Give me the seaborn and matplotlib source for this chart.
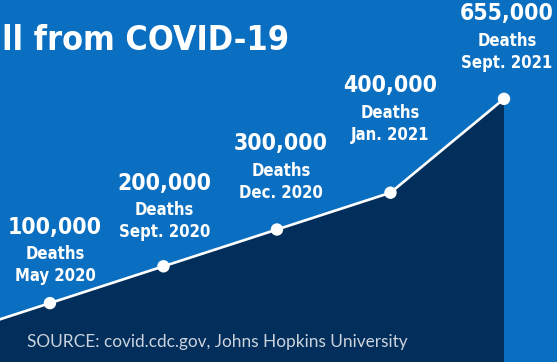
import matplotlib
matplotlib.use("Agg")
import matplotlib.pyplot as plt
import seaborn as sns
import pandas as pd

# Data
dates = ["Feb. 2020", "May 2020", "Sept. 2020", "Dec. 2020", "Jan. 2021", "Sept. 2021"]
deaths = [0, 100000, 200000, 300000, 400000, 655000]
number_labels = ["", "100,000", "200,000", "300,000", "400,000", "655,000"]
title_text = "ll from COVID-19"
source_text = "SOURCE: covid.cdc.gov, Johns Hopkins University"

BLUE = "#0A6EC1"
NAVY = "#022E5B"
WHITE = "#FFFFFF"
FONT = ["DejaVu Sans"]

df = pd.DataFrame({"pos": range(-1, len(deaths) - 1), "deaths": deaths, "date": dates})

sns.set_theme(style="white")
plt.rcParams["font.family"] = FONT

fig = plt.figure(figsize=(5.57, 3.62), dpi=100)
fig.patch.set_facecolor(BLUE)
ax = fig.add_axes([0, 0, 1, 1])
ax.set_facecolor(BLUE)

ymin, ymax = -60000, 923600
ax.set_xlim(-0.44, 4.467)
ax.set_ylim(ymin, ymax)

ax.fill_between(df["pos"], df["deaths"], ymin, color=NAVY, lw=0, zorder=1)
sns.lineplot(data=df, x="pos", y="deaths", ax=ax, color=WHITE, lw=1.9, zorder=2)
pts = df[df["pos"] >= 0]
sns.scatterplot(data=pts, x="pos", y="deaths", ax=ax, color=WHITE, s=80,
                edgecolor="none", zorder=3)

# Label placement (pixel offsets from each point: x shift, date-line rise)
label_dx = [0, 5, 1, 4, 0, 3]
label_dy = [0, 27, 34, 37, 58, 36]
txt_kw = dict(textcoords="offset pixels", ha="center", va="center", color=WHITE,
              fontweight="bold", family=FONT, fontstretch="condensed", zorder=4)
for i, row in df.iterrows():
    if not number_labels[i]:
        continue
    xy = (row["pos"], row["deaths"])
    dx, dy = label_dx[i], label_dy[i]
    ax.annotate(row["date"], xy, xytext=(dx, dy), fontsize=12, **txt_kw)
    ax.annotate("Deaths", xy, xytext=(dx, dy + 22), fontsize=12, **txt_kw)
    ax.annotate(number_labels[i], xy, xytext=(dx, dy + 49), fontsize=16.5, **txt_kw)

fig.text(0.004, 1 - 50 / 362, title_text, color=WHITE, fontsize=24.5, fontweight="bold",
         family=FONT, fontstretch="condensed", ha="left", va="baseline")
fig.text(27 / 557, 1 - 342 / 362, source_text, color="#CDD3DC", fontsize=12.4,
         family=["Lato", "DejaVu Sans"], fontweight="normal", ha="left", va="center")

ax.set_xlabel("")
ax.set_ylabel("")
ax.set_xticks([])
ax.set_yticks([])
for s in ax.spines.values():
    s.set_visible(False)
if ax.get_legend():
    ax.get_legend().remove()

fig.savefig("out.png", dpi=100, facecolor=BLUE)
